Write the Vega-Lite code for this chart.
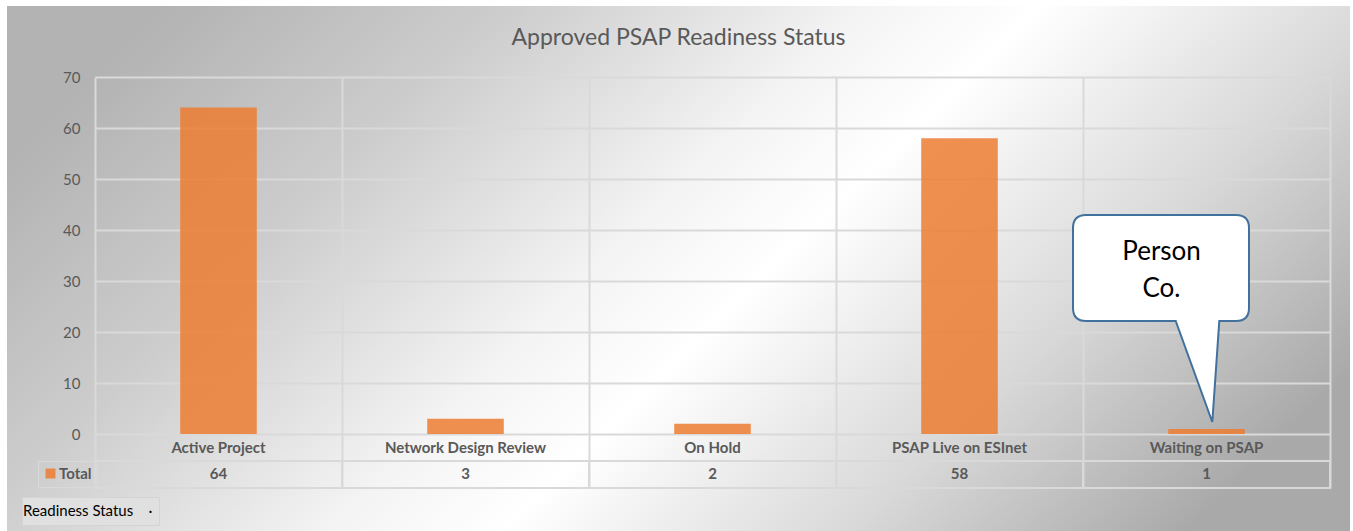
{
  "$schema": "https://vega.github.io/schema/vega-lite/v6.json",
  "autosize": {"type": "none"},
  "padding": {"left": 7, "top": 6, "right": 3, "bottom": 0},
  "width": 1343,
  "height": 525,
  "background": "white",
  "view": {
    "stroke": null,
    "fill": {
      "gradient": "linear", "x1": 0, "y1": 0.3, "x2": 1, "y2": 0.7,
      "stops": [
        {"offset": 0, "color": "#b3b3b3"},
        {"offset": 0.22, "color": "#cdcdcd"},
        {"offset": 0.45, "color": "#f4f4f4"},
        {"offset": 0.56, "color": "#ffffff"},
        {"offset": 0.78, "color": "#d9d9d9"},
        {"offset": 1, "color": "#a9a9a9"}
      ]
    }
  },
  "title": {
    "text": "Approved PSAP Readiness Status",
    "font": "Lato", "fontSize": 23, "fontWeight": "normal", "color": "#595959",
    "anchor": "middle", "offset": -44
  },
  "data": {
    "values": [
      {"status": "Active Project", "count": 64, "series": "Total"},
      {"status": "Network Design Review", "count": 3, "series": "Total"},
      {"status": "On Hold", "count": 2, "series": "Total"},
      {"status": "PSAP Live on ESInet", "count": 58, "series": "Total"},
      {"status": "Waiting on PSAP", "count": 1, "series": "Total"}
    ]
  },
  "encoding": {
    "x": {
      "field": "status", "type": "nominal", "sort": null,
      "scale": {"type": "band", "range": [88, 1323], "paddingInner": 0, "paddingOuter": 0},
      "axis": {
        "orient": "top", "offset": 0, "domain": false, "ticks": false, "tickSize": 0,
        "labels": false, "tickBand": "extent", "grid": true, "gridColor": "#d9d9d9", "gridWidth": 2,
        "title": null
      }
    }
  },
  "layer": [
    {
      "mark": {"type": "bar", "width": {"band": 0.31}, "opacity": 0.85},
      "encoding": {
        "y": {
          "field": "count", "type": "quantitative",
          "scale": {"domain": [-10.588, 70], "range": [482, 71], "nice": false, "zero": false},
          "axis": {
            "orient": "left", "offset": -88, "values": [0, 10, 20, 30, 40, 50, 60, 70],
            "domain": false, "ticks": false, "tickSize": 0, "grid": true,
            "gridColor": "#d9d9d9", "gridWidth": 2, "labelPadding": 15,
            "labelFont": "Lato", "labelFontSize": 15, "labelColor": "#595959", "title": null
          }
        },
        "color": {
          "field": "series", "type": "nominal",
          "scale": {"range": ["#ED7D31"]},
          "legend": {
            "orient": "none", "legendX": 31, "legendY": 455, "title": null,
            "strokeColor": "#d9d9d9", "padding": 5, "symbolType": "square", "symbolSize": 100,
            "symbolStrokeWidth": 0, "labelOffset": 1,
            "labelFont": "Lato", "labelFontSize": 15, "labelFontWeight": "bold", "labelColor": "#595959"
          }
        }
      }
    },
    {
      "mark": {"type": "bar", "fill": null, "stroke": "#d9d9d9", "strokeWidth": 2},
      "encoding": {
        "y": {"datum": -5.294, "type": "quantitative"},
        "y2": {"datum": -10.588}
      }
    },
    {
      "mark": {"type": "text", "font": "Lato", "fontSize": 15, "fontWeight": "bold", "color": "#595959", "baseline": "middle"},
      "encoding": {
        "y": {"datum": -2.647, "type": "quantitative"},
        "text": {"field": "status", "type": "nominal"}
      }
    },
    {
      "mark": {"type": "text", "font": "Lato", "fontSize": 15, "fontWeight": "bold", "color": "#595959", "baseline": "middle"},
      "encoding": {
        "y": {"datum": -7.94, "type": "quantitative"},
        "text": {"field": "count", "type": "quantitative"}
      }
    },
    {
      "data": {"values": [{"label": "Person\nCo.", "status": "Waiting on PSAP", "pivot": "Readiness Status"}]},
      "layer": [
        {
          "mark": {
            "type": "point", "filled": true, "fill": "#ffffff", "opacity": 1, "fillOpacity": 1,
            "stroke": "#41719C", "strokeWidth": 2, "strokeOpacity": 1, "size": 40000
          },
          "encoding": {
            "y": {"datum": 2.35, "type": "quantitative"},
            "shape": {
              "field": "pivot", "type": "nominal",
              "scale": {"range": ["M -1.205 -2.07 L 0.295 -2.07 Q 0.425 -2.07 0.425 -1.94 L 0.425 -1.14 Q 0.425 -1.01 0.295 -1.01 L 0.128 -1.01 L 0.058 0 L -0.308 -1.01 L -1.205 -1.01 Q -1.335 -1.01 -1.335 -1.14 L -1.335 -1.94 Q -1.335 -2.07 -1.205 -2.07 Z"]},
              "legend": {
                "orient": "none", "legendX": 15, "legendY": 491, "title": null,
                "symbolSize": 0, "symbolOpacity": 0, "symbolStrokeWidth": 0, "labelOffset": -20,
                "padding": 6, "fillColor": "#e0e0e0", "strokeColor": "#d4d4d4",
                "labelFont": "Lato", "labelFontSize": 15, "labelColor": "#000000", "labelLimit": 300,
                "labelExpr": "datum.label + '\u00a0\u00a0\u00a0\u00a0·\u200b'"
              }
            }
          }
        },
        {
          "mark": {"type": "text", "font": "Lato", "fontSize": 26, "color": "#000000", "baseline": "middle", "align": "center", "dx": -45, "lineBreak": "\n", "lineHeight": 37},
          "encoding": {
            "y": {"datum": 35.7, "type": "quantitative"},
            "text": {"field": "label"}
          }
        }
      ]
    }
  ]
}
